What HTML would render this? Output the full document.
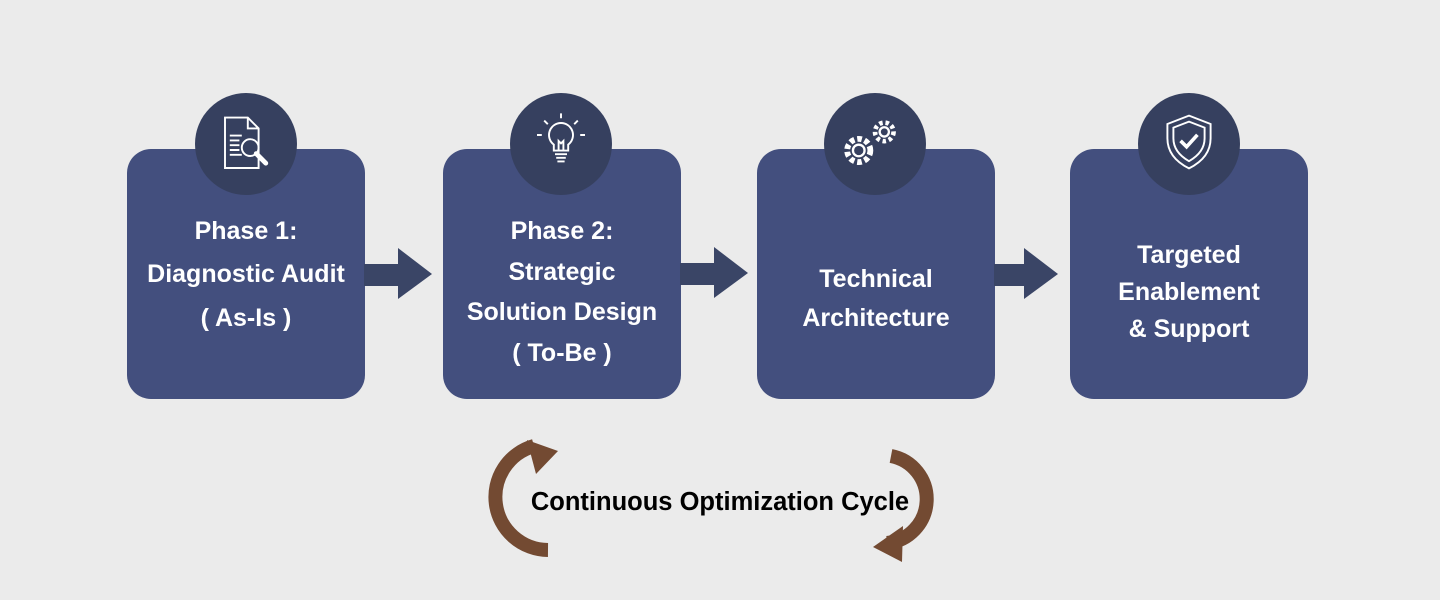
<!DOCTYPE html>
<html><head><style>
body{margin:0;width:1440px;height:600px;background:#ebebeb;font-family:"Liberation Sans",sans-serif;overflow:hidden;position:relative}
.box{position:absolute;top:149px;width:238px;height:250px;background:#434f7e;border-radius:24px;color:#fff;font-weight:bold;font-size:25px;text-align:center;display:flex;align-items:center;justify-content:center;line-height:40px;white-space:nowrap}
.circ{position:absolute;top:93px;width:102px;height:102px;border-radius:50%;background:#36405f}
.circ svg{position:absolute}
</style></head><body>
<div class="box" style="left:127px"><div style="margin-top:2px;line-height:43.5px">Phase 1:<br>Diagnostic Audit<br>( As-Is )</div></div>
<div class="box" style="left:443px"><div style="margin-top:36px;line-height:40.5px">Phase 2:<br>Strategic<br>Solution Design<br>( To-Be )</div></div>
<div class="box" style="left:757px"><div style="margin-top:49px;line-height:39px">Technical<br>Architecture</div></div>
<div class="box" style="left:1070px"><div style="margin-top:37px;line-height:37px">Targeted<br>Enablement<br>&amp; Support</div></div>

<div class="circ" style="left:195px"><svg width="60" height="60" viewBox="0 0 50 50" fill="none" stroke="#fff" stroke-width="1.6" style="left:24px;top:21px"><path d="M5 3h19l9 9v33H5z"/><path d="M24 3v9h9"/><path d="M9 18h10M9 22h8M9 26h8M9 30h8M9 34h10"/><circle cx="26" cy="28" r="7"/><path d="M31 33l8 8" stroke-width="4" stroke-linecap="round"/></svg></div>
<div class="circ" style="left:510px"><svg width="60" height="60" viewBox="0 0 50 50" fill="none" stroke="#fff" stroke-width="1.6" style="left:21px;top:18px"><path d="M25 10a10 10 0 0 0-6 18v5h12v-5a10 10 0 0 0-6-18z"/><path d="M20 36h10M21 39h8M22 42h6"/><path d="M23 33v-8l2 2 2-2v8"/><path d="M25 2v4M11 8l3 3M39 8l-3 3M5 20h4M41 20h4"/></svg></div>
<div class="circ" style="left:824px"><svg width="70" height="65" viewBox="0 0 60 56" fill="none" stroke="#fff" stroke-width="2" style="left:16px;top:18px"><circle cx="16" cy="34" r="10" stroke-dasharray="4 2.5" stroke-width="5"/><circle cx="16" cy="34" r="5"/><circle cx="38" cy="18" r="8" stroke-dasharray="3 2.5" stroke-width="4"/><circle cx="38" cy="18" r="4"/></svg></div>
<div class="circ" style="left:1138px"><svg width="60" height="60" viewBox="0 0 50 50" fill="none" stroke="#fff" stroke-width="1.6" style="left:21px;top:19px"><path d="M25 3l18 7v12c0 12-8 20-18 25C15 42 7 34 7 22V10z"/><path d="M25 8l13 5v9c0 9-6 15-13 19-7-4-13-10-13-19v-9z"/><path d="M18 24l5 5 9-10" stroke-width="3"/></svg></div>

<svg width="1440" height="600" style="position:absolute;left:0;top:0">
<g fill="#3a4566">
<rect x="364" y="264" width="36" height="22"/><polygon points="398,248 432,274 398,299"/>
<rect x="680" y="263" width="36" height="22"/><polygon points="714,247 748,273 714,298"/>
<rect x="994" y="264" width="32" height="22"/><polygon points="1024,248 1058,274 1024,299"/>
</g>
<g fill="none" stroke="#734a32" stroke-width="14">
<path d="M548 550 A53 53 0 0 1 534 446"/>
<path d="M891 456 A44 44 0 0 1 887 543"/>
</g>
<g fill="#734a32">
<polygon points="527,440 558,451 536,474"/>
<polygon points="873,547 903,526 902,562"/>
</g>
<text x="720" y="510" text-anchor="middle" font-family="Liberation Sans" font-weight="bold" font-size="25.5" fill="#000">Continuous Optimization Cycle</text>
</svg>
</body></html>
